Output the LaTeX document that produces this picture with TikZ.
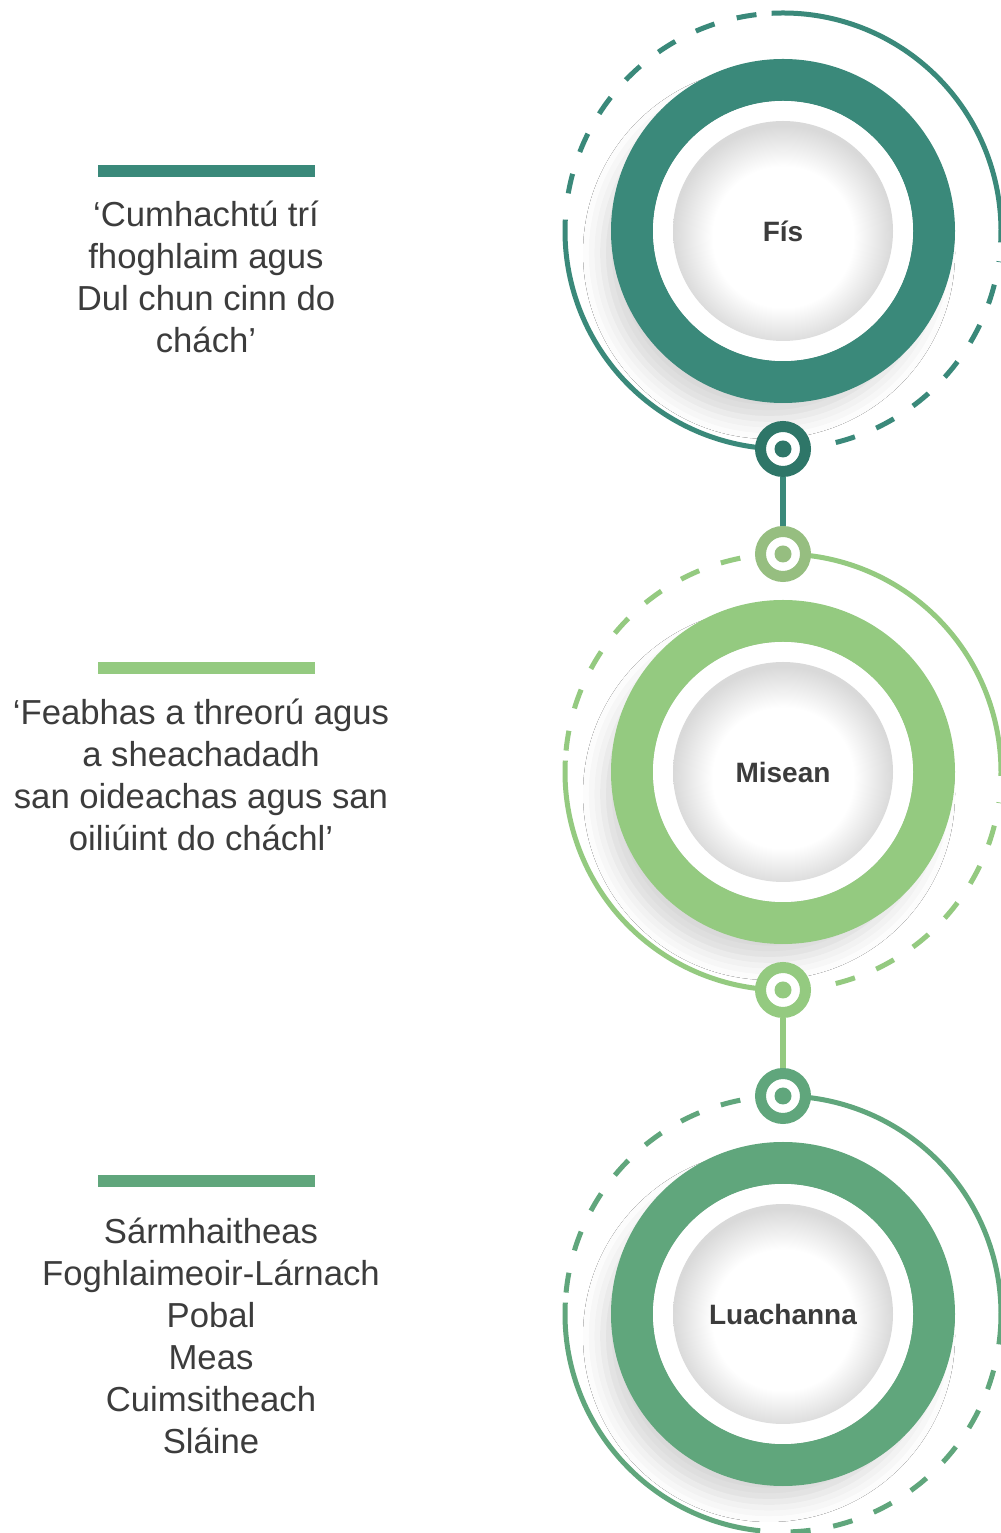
\documentclass[tikz,border=0pt]{standalone}
\usepackage{fontspec}
\setmainfont{Liberation Sans}
\usetikzlibrary{shadows.blur}
\definecolor{teal1}{RGB}{58,137,122}
\definecolor{teald}{RGB}{46,118,104}
\definecolor{lgreen}{RGB}{148,202,128}
\definecolor{lgreeng}{RGB}{150,190,128}
\definecolor{mgreen}{RGB}{96,166,124}
\definecolor{txt}{RGB}{60,60,60}
\pgfdeclareradialshading{diskshade}{\pgfpoint{0bp}{-2bp}}{color(0bp)=(white); color(16bp)=(white); color(25bp)=(black!15); color(50bp)=(black!15)}
\begin{document}
\begin{tikzpicture}[x=0.5pt,y=0.5pt,
  ringstroke/.style={line width=21pt},
  shadowblob/.style={blur shadow={shadow xshift=-7pt, shadow yshift=-11pt, shadow blur radius=10pt, shadow opacity=16}},
  disk/.style={circle, minimum size=110pt, inner sep=0pt, shade, shading=diskshade, font=\bfseries\fontsize{14pt}{16pt}\selectfont, text=txt},
  orbit/.style={line width=2.5pt},
  orbitdash/.style={line width=2.5pt, dash pattern=on 10pt off 11.5pt},
  knot/.style={circle, draw=#1, fill=white, line width=5.5pt, minimum size=22.5pt, inner sep=0pt},
  link/.style={line width=3pt},
  bar/.style={line width=6pt},
  blurb/.style={align=center, text=txt, font=\fontsize{17.35pt}{21pt}\selectfont}
]
\fill[white] (0,0) rectangle (1001,1533);
\useasboundingbox (0,0) rectangle (1001,1533);

% ---------- group 1 : Fis ----------
\coordinate (c1) at (783,1302);
\path[shadowblob] (c1) circle[radius=166];
\draw[teal1, ringstroke] (c1) circle[radius=151];
\fill[white] (c1) circle[radius=130];
\node[disk] (fis) at (c1) {Fís};
\draw[teal1, orbit] (c1) ++(177:218) arc[start angle=177, end angle=270, radius=218];
\draw[teal1, orbit] (c1) ++(93:218) arc[start angle=93, end angle=-3, radius=218];
\draw[teal1, orbitdash] (c1) ++(97:218) arc[start angle=97, end angle=176, radius=218];
\draw[teal1, orbitdash] (c1) ++(-76:218) arc[start angle=-76, end angle=-8, radius=218];
\node[knot=teald] (k1) at (783,1084) {};
\fill[teald] (k1) circle[radius=8.5];

% ---------- group 2 : Misean ----------
\coordinate (c2) at (783,761);
\path[shadowblob] (c2) circle[radius=166];
\draw[lgreen, ringstroke] (c2) circle[radius=151];
\fill[white] (c2) circle[radius=130];
\node[disk] (misean) at (c2) {Misean};
\draw[lgreen, orbit] (c2) ++(177:218) arc[start angle=177, end angle=270, radius=218];
\draw[lgreen, orbit] (c2) ++(90:218) arc[start angle=90, end angle=-1, radius=218];
\draw[lgreen, orbitdash] (c2) ++(90:218) arc[start angle=90, end angle=177, radius=218];
\draw[lgreen, orbitdash] (c2) ++(-76:218) arc[start angle=-76, end angle=-8, radius=218];
\node[knot=lgreeng] (k2) at (783,979) {};
\fill[lgreeng] (k2) circle[radius=8.5];
\node[knot=lgreen] (k3) at (783,543) {};
\fill[lgreen] (k3) circle[radius=8.5];

% ---------- group 3 : Luachanna ----------
\coordinate (c3) at (783,219);
\path[shadowblob] (c3) circle[radius=166];
\draw[mgreen, ringstroke] (c3) circle[radius=151];
\fill[white] (c3) circle[radius=130];
\node[disk] (luach) at (c3) {Luachanna};
\draw[mgreen, orbit] (c3) ++(177:218) arc[start angle=177, end angle=264, radius=218];
\draw[mgreen, orbit] (c3) ++(90:218) arc[start angle=90, end angle=-8, radius=218];
\draw[mgreen, orbitdash] (c3) ++(90:218) arc[start angle=90, end angle=177, radius=218];
\draw[mgreen, orbitdash] (c3) ++(272:218) arc[start angle=272, end angle=345, radius=218];
\node[knot=mgreen] (k4) at (783,437) {};
\fill[mgreen] (k4) circle[radius=8.5];

% ---------- links ----------
\draw[link, teal1] (k1) -- (k2);
\draw[link, lgreen] (k3) -- (k4);

% ---------- left texts ----------
\draw[bar, teal1] (98,1362) -- (315,1362);
\node[blurb] (t1) at (206,1256) {‘Cumhachtú trí\\fhoghlaim agus\\Dul chun cinn do\\chách’};
\draw[bar, lgreen] (98,865) -- (315,865);
\node[blurb] (t2) at (201,758) {‘Feabhas a threorú agus\\a sheachadadh\\san oideachas agus san\\oiliúint do cháchl’};
\draw[bar, mgreen] (98,352) -- (315,352);
\node[blurb] (t3) at (211,197) {Sármhaitheas\\Foghlaimeoir-Lárnach\\Pobal\\Meas\\Cuimsitheach\\Sláine};
\end{tikzpicture}
\end{document}
